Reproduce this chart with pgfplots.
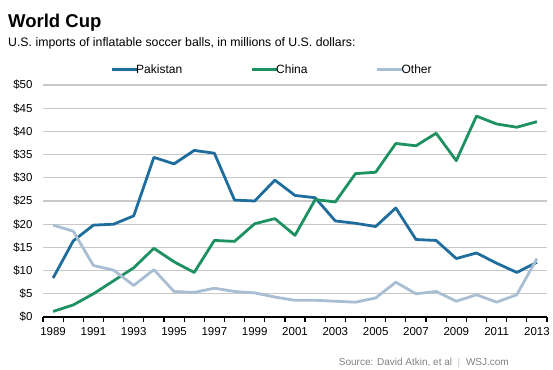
\documentclass[border=0pt]{standalone}
\usepackage{pgfplots}
\pgfplotsset{compat=1.18}
\usepackage{pgfplotstable}
\usepackage{fontspec}
\setmainfont{Liberation Sans}
\definecolor{pak}{HTML}{1F6D9C}
\definecolor{chn}{HTML}{1E9160}
\definecolor{oth}{HTML}{A9BED3}
\definecolor{gridc}{HTML}{C8C8C8}
\pgfplotstableread{
year pak chn oth
1989 8.4 1.2 19.8
1990 16.4 2.6 18.5
1991 19.8 5.0 11.1
1992 20.0 7.8 10.1
1993 21.8 10.6 6.8
1994 34.4 14.8 10.2
1995 33.0 11.9 5.5
1996 35.9 9.6 5.3
1997 35.3 16.5 6.2
1998 25.2 16.3 5.5
1999 25.0 20.1 5.2
2000 29.5 21.2 4.3
2001 26.2 17.6 3.6
2002 25.7 25.3 3.6
2003 20.7 24.8 3.4
2004 20.2 30.9 3.2
2005 19.5 31.2 4.1
2006 23.5 37.4 7.5
2007 16.7 36.9 5.0
2008 16.5 39.6 5.5
2009 12.6 33.7 3.4
2010 13.8 43.3 4.8
2011 11.6 41.6 3.2
2012 9.6 40.9 4.8
2013 11.8 42.1 12.6
}\data
\begin{document}
\begin{tikzpicture}[x=1bp,y=1bp]
\path[use as bounding box] (0,0) rectangle (553,369);
\node[anchor=base west,inner sep=0pt,font=\fontsize{18.5bp}{20bp}\selectfont\bfseries] at (8,342) {World Cup};
\node[anchor=base west,inner sep=0pt,font=\fontsize{12.3bp}{14bp}\selectfont] at (8,322.5) {U.S. imports of inflatable soccer balls, in millions of U.S. dollars:};
\node[anchor=base east,inner sep=0pt,font=\fontsize{10bp}{12bp}\selectfont,text=black!50] at (509,4) {Source: David Atkin, et al \ $|$ \ WSJ.com};
\begin{axis}[
  at={(43bp,52bp)}, anchor=south west,
  scale only axis, width=504bp, height=232bp,
  xmin=1988.5, xmax=2013.5, ymin=0, ymax=50,
  axis x line*=bottom, axis y line*=left,
  x axis line style={black,line width=1.4bp},
  y axis line style={draw=none},
  xtick={1989,1991,...,2013},
  major tick length=0pt,
  minor xtick={1988.5,1989.5,...,2013.5},
  minor tick length=4.5bp,
  tick align=outside,
  minor tick style={black,line width=1.2bp},
  xticklabel style={/pgf/number format/1000 sep={},font=\fontsize{11.5bp}{13bp}\selectfont,yshift=-7bp},
  ytick={0,5,...,50},
  yticklabel={\$\pgfmathprintnumber{\tick}},
  yticklabel style={font=\fontsize{11.5bp}{13bp}\selectfont,xshift=-7bp},
  /pgf/number format/assume math mode=true,
  ymajorgrids, grid style={gridc,line width=1.1bp},
  legend columns=3,
  legend style={draw=none,fill=none,at={(0.133,1.065)},anchor=west,inner sep=0pt,
    font=\fontsize{12bp}{14bp}\selectfont,
    /tikz/every even column/.append style={column sep=66bp}},
  legend cell align=left,
  legend image code/.code={\draw[#1,line width=3bp] (0bp,0bp) -- (25bp,0bp);},
  every axis plot/.append style={line width=2.8bp,line join=round},
]
\addplot[pak,no marks] table[x=year,y=pak] {\data};
\addlegendentry{\hspace{-4bp}Pakistan}
\addplot[chn,no marks] table[x=year,y=chn] {\data};
\addlegendentry{\hspace{-4bp}China}
\addplot[oth,no marks] table[x=year,y=oth] {\data};
\addlegendentry{\hspace{-4bp}Other}
\end{axis}
\end{tikzpicture}
\end{document}
